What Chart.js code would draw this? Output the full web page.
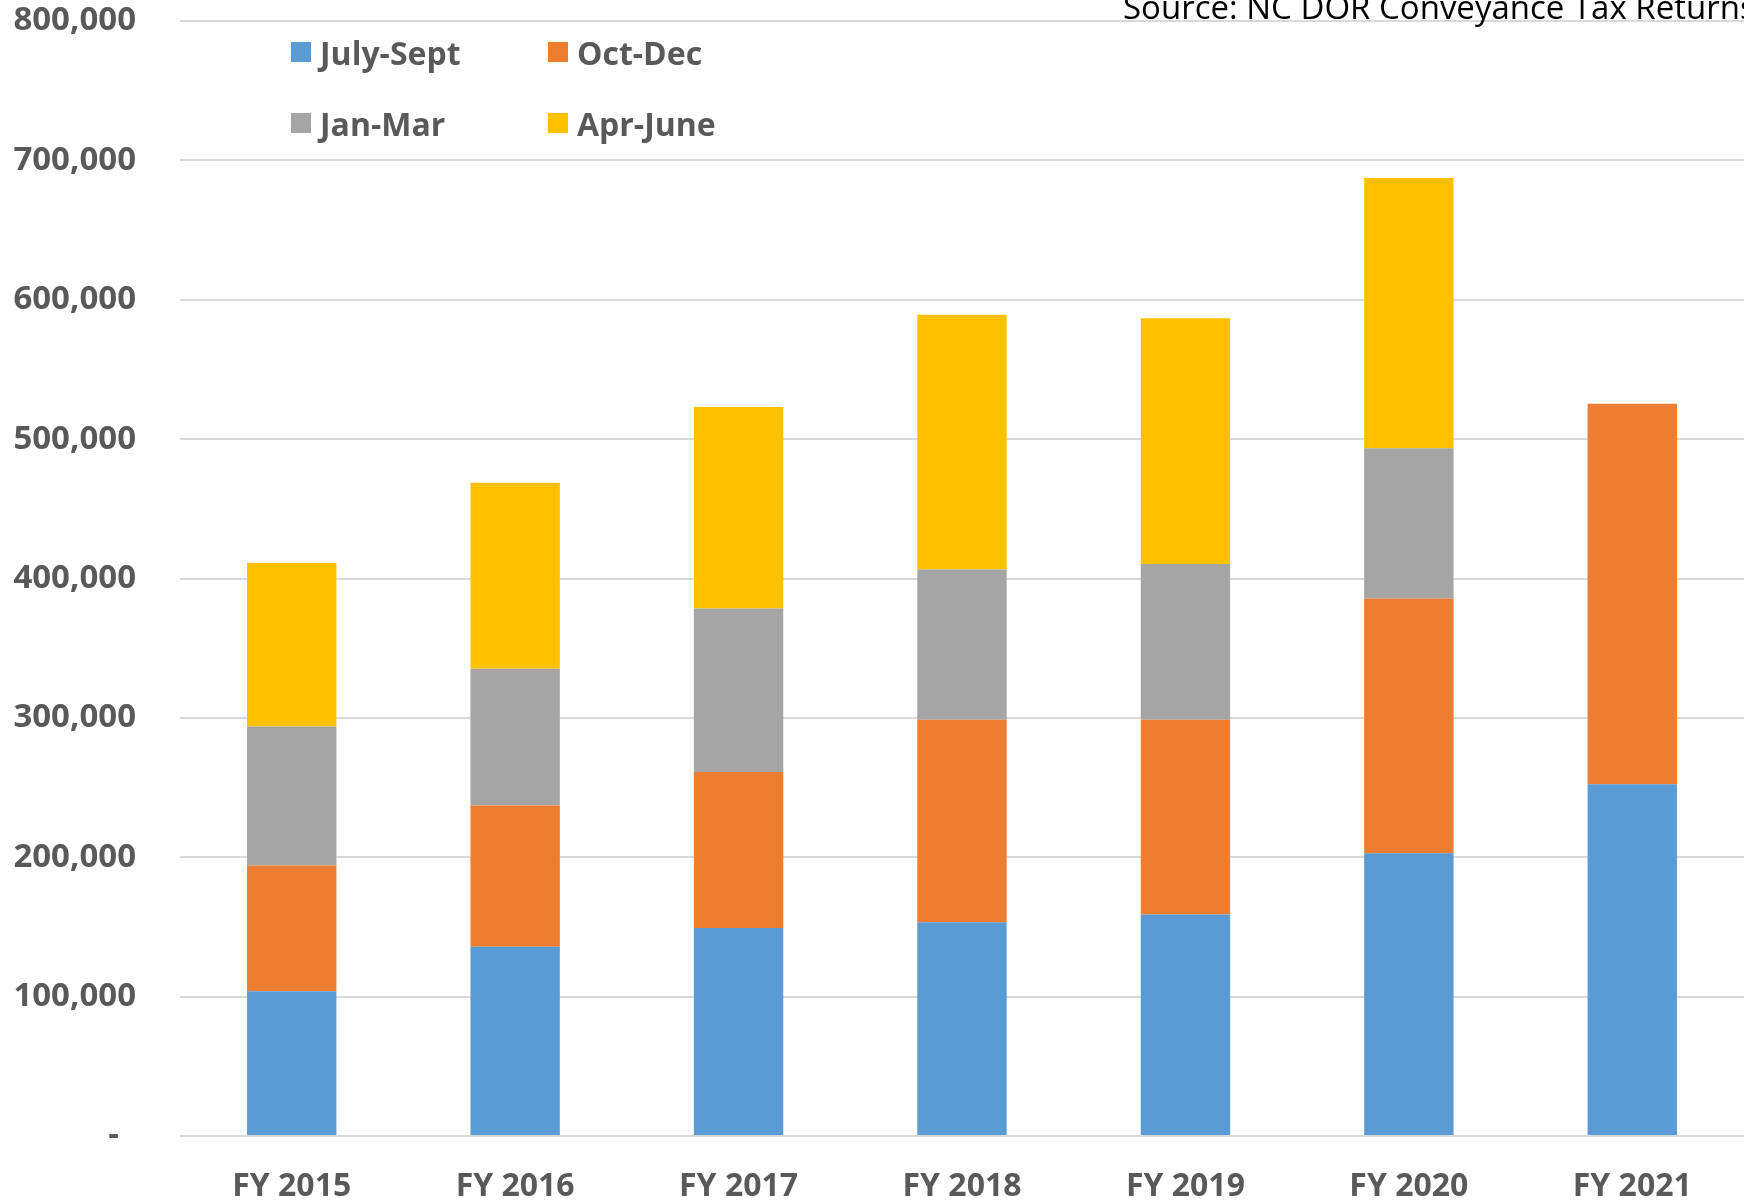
<!DOCTYPE html>
<html>
<head>
<meta charset="utf-8">
<script src="https://cdn.jsdelivr.net/npm/chart.js@4/dist/chart.umd.min.js"></script>
<style>
  html, body { margin: 0; padding: 0; background: #fff; overflow: hidden; }
  #wrap { position: relative; width: 1744px; height: 1200px; }
  #source {
    position: absolute; left: 1123px; top: -16px; white-space: nowrap;
    font: 33px "Open Sans", sans-serif; color: #000;
  }
  .leg { position: absolute; display: flex; align-items: center;
    font: bold 32px "Open Sans", sans-serif; color: #595959; white-space: nowrap; }
  .leg span.box { width: 20px; height: 20px; margin-right: 9px; display: inline-block; }
</style>
</head>
<body>
<div id="wrap">
  <canvas id="conveyanceChart"></canvas>
  <div id="source">Source: NC DOR Conveyance Tax Returns</div>
  <div id="legend"></div>
</div>
<script>
// Quarterly conveyance tax returns per fiscal year
const categories = ["FY 2015", "FY 2016", "FY 2017", "FY 2018", "FY 2019", "FY 2020", "FY 2021"];
const julySept = [103800, 135700, 149300, 153300, 158900, 202800, 252300];
const octDec   = [90200, 101400, 111800, 145300, 139700, 182800, 273100];
const janMar   = [99800, 98200, 117300, 107800, 111800, 107800, null];
const aprJune  = [117400, 133400, 144600, 182800, 176400, 194000, null];
const seriesNames = ["July-Sept", "Oct-Dec", "Jan-Mar", "Apr-June"];
const colors = ["#5B9BD5", "#ED7D31", "#A5A5A5", "#FFC000"];

const textColor = "#595959";
const gridColor = "#D9D9D9";
const yFont = { family: "'Open Sans', sans-serif", size: 33, weight: "bold" };
const xFont = { family: "'Open Sans', sans-serif", size: 32, weight: "bold" };

// drop the extra space Chart.js reserves for half tick labels
const noPad = (s) => { s.paddingTop = 0; s.paddingBottom = 0; s.paddingLeft = 0; s.paddingRight = 0; };

const ctx = document.getElementById("conveyanceChart").getContext("2d");
const chart = new Chart(ctx, {
  type: "bar",
  data: {
    labels: categories,
    datasets: [julySept, octDec, janMar, aprJune].map((d, i) => ({
      label: seriesNames[i],
      data: d,
      backgroundColor: colors[i],
      borderWidth: 0,
      barPercentage: 0.8,
      categoryPercentage: 0.5,
    })),
  },
  options: {
    responsive: true,
    maintainAspectRatio: false,
    animation: false,
    layout: { padding: { top: 21, right: 0, bottom: 0, left: 0 } },
    scales: {
      x: {
        stacked: true,
        grid: { display: false },
        border: { display: false },
        afterFit: (s) => { noPad(s); s.height = 64; },
        ticks: { color: textColor, font: xFont, padding: 24 },
      },
      y: {
        stacked: true,
        min: 0,
        max: 800000,
        grid: { color: gridColor, lineWidth: 2, drawTicks: false },
        border: { display: false },
        afterFit: (s) => { noPad(s); s.width = 180; },
        ticks: {
          stepSize: 100000,
          color: textColor,
          font: yFont,
          padding: 44,
          callback: (v) => (v === 0 ? "-  " : v.toLocaleString("en-US")),
        },
      },
    },
    plugins: {
      legend: { display: false },
      tooltip: { enabled: false },
    },
  },
});

// 2x2 legend like the original
const legendPos = [[291, 52], [548, 52], [291, 123], [548, 123]];
const legendEl = document.getElementById("legend");
chart.data.datasets.forEach((ds, i) => {
  const item = document.createElement("div");
  item.className = "leg";
  item.style.left = legendPos[i][0] + "px";
  item.style.top = (legendPos[i][1] - 22) + "px";
  item.style.height = "44px";
  item.innerHTML = '<span class="box" style="background:' + ds.backgroundColor + '"></span>' + ds.label;
  legendEl.appendChild(item);
});
</script>
</body>
</html>
